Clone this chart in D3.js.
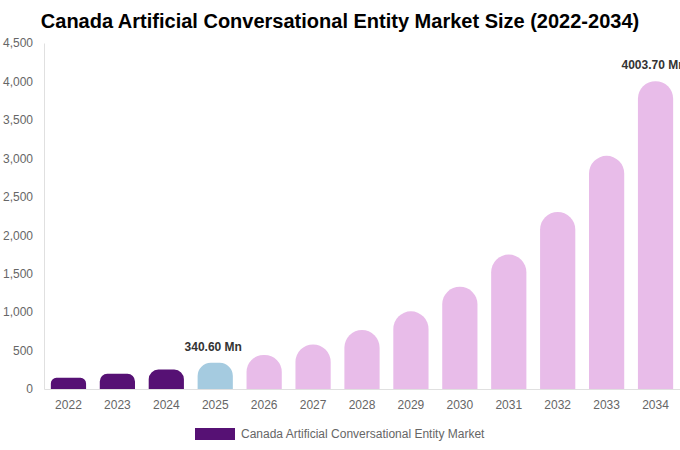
<!DOCTYPE html>
<html>
<head>
<meta charset="utf-8">
<script src="https://cdn.jsdelivr.net/npm/d3@7"></script>
<style>
  body { margin: 0; background: #fff; }
  svg { font-family: "Liberation Sans", Arial, sans-serif; }
</style>
</head>
<body>
<div id="chart"></div>
<script>
// chart data
var years = ["2022","2023","2024","2025","2026","2027","2028","2029","2030","2031","2032","2033","2034"];
var marketValues = [145, 197, 252, 340.6, 442, 580, 767, 1010, 1330, 1748, 2302, 3032, 4003.7];
var yTicks = [0, 500, 1000, 1500, 2000, 2500, 3000, 3500, 4000, 4500];
var labelled = {"2025": "340.60 Mn", "2034": "4003.70 Mn"};
var seriesName = "Canada Artificial Conversational Entity Market";

var W = 680, H = 450;
var margin = {top: 43, right: 0, bottom: 61, left: 44},
    width = W - margin.left - margin.right,
    height = H - margin.top - margin.bottom;

function barColor(yr) {
  if (+yr < 2025) return "#561174";
  if (+yr === 2025) return "#a5cbe0";
  return "#e8bce9";
}

var svg = d3.select("#chart").append("svg")
    .attr("width", W)
    .attr("height", H);

svg.append("text")
    .attr("x", W / 2)
    .attr("y", 28)
    .attr("text-anchor", "middle")
    .style("font-size", "20px")
    .style("font-weight", "bold")
    .attr("fill", "#000")
    .text("Canada Artificial Conversational Entity Market Size (2022-2034)");

var g = svg.append("g")
    .attr("transform", "translate(" + margin.left + "," + margin.top + ")");

var x = d3.scaleBand()
    .domain(years)
    .range([0, width])
    .paddingInner(0.28)
    .paddingOuter(0.14);

var y = d3.scaleLinear()
    .domain([0, 4500])
    .range([height, 0]);

// y axis
var yAxis = g.append("g")
    .call(d3.axisLeft(y).tickValues(yTicks).tickSize(0).tickPadding(11).tickFormat(d3.format(",")));
yAxis.select(".domain").attr("stroke", "#e0e0e0");
yAxis.selectAll("text").attr("fill", "#666").style("font-size", "12px");

// x axis
var xAxis = g.append("g")
    .attr("transform", "translate(0," + height + ")")
    .call(d3.axisBottom(x).tickSize(0).tickPadding(11));
xAxis.select(".domain").attr("stroke", "#e0e0e0");
xAxis.selectAll("text").attr("fill", "#666").style("font-size", "12px");

// bars with rounded tops
var data = years.map(function(yr, i) { return {year: yr, value: marketValues[i]}; });

function barPath(d) {
  var x0 = x(d.year), w = x.bandwidth(),
      yTop = y(d.value), yb = y(0), h = yb - yTop,
      r = Math.min(w / 2, h / 2);
  return "M" + x0 + "," + yb +
    "V" + (yTop + r) +
    "A" + r + "," + r + " 0 0 1 " + (x0 + r) + "," + yTop +
    "H" + (x0 + w - r) +
    "A" + r + "," + r + " 0 0 1 " + (x0 + w) + "," + (yTop + r) +
    "V" + yb + "Z";
}

g.selectAll(".bar")
  .data(data)
  .enter()
  .append("path")
    .attr("class", "bar")
    .attr("d", barPath)
    .attr("fill", function(d) { return barColor(d.year); });

g.selectAll(".vlabel")
  .data(data.filter(function(d) { return labelled[d.year]; }))
  .enter()
  .append("text")
    .attr("class", "vlabel")
    .attr("x", function(d) { return x(d.year) + x.bandwidth() / 2 - 2; })
    .attr("y", function(d) { return y(d.value) - 12; })
    .attr("text-anchor", "middle")
    .attr("fill", "#333")
    .style("font-size", "12px")
    .style("font-weight", "bold")
    .text(function(d) { return labelled[d.year]; });

// legend
var legend = svg.append("g").attr("transform", "translate(195,428)");
legend.append("rect")
    .attr("width", 40)
    .attr("height", 12)
    .attr("fill", "#561174");
legend.append("text")
    .attr("x", 46)
    .attr("y", 10)
    .attr("fill", "#666")
    .style("font-size", "12px")
    .text(seriesName);
</script>
</body>
</html>
